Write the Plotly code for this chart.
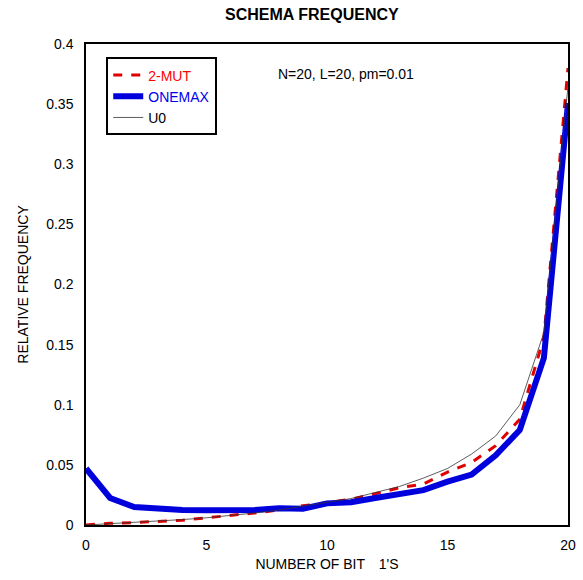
import plotly.graph_objects as go

x = list(range(21))
mut2 = [0.0, 0.0015, 0.002, 0.003, 0.004, 0.006, 0.0078, 0.010, 0.0125, 0.016, 0.0185,
        0.0215, 0.026, 0.031, 0.034, 0.044, 0.052, 0.066, 0.088, 0.156, 0.38]
onemax = [0.047, 0.0225, 0.015, 0.0135, 0.0125, 0.0122, 0.012, 0.0125, 0.014, 0.0135, 0.018,
          0.019, 0.0225, 0.0255, 0.029, 0.036, 0.042, 0.058, 0.079, 0.139, 0.351]
u0 = [0.0, 0.001, 0.002, 0.003, 0.0045, 0.006, 0.0078, 0.010, 0.0125, 0.0155, 0.0185,
      0.022, 0.027, 0.032, 0.039, 0.047, 0.059, 0.074, 0.100, 0.160, 0.365]

font = "Liberation Sans, Arial, sans-serif"
fig = go.Figure()
fig.add_trace(go.Scatter(x=x, y=mut2, mode="lines", name="<span style='color:#ff0000'>2-MUT</span>",
                         line=dict(color="#e00000", width=3, dash="dash")))
fig.add_trace(go.Scatter(x=x, y=onemax, mode="lines", name="<span style='color:#0000ee'>ONEMAX</span>",
                         line=dict(color="#0000dd", width=6)))
fig.add_trace(go.Scatter(x=x, y=u0, mode="lines", name="U0",
                         line=dict(color="#333333", width=0.8)))

fig.update_layout(
    width=583, height=580,
    margin=dict(l=86, r=15, t=44, b=55, autoexpand=False),
    paper_bgcolor="white", plot_bgcolor="white",
    font=dict(family=font, size=14, color="black"),
    title=dict(text="<b>SCHEMA FREQUENCY</b>", x=0.535, xanchor="center", y=0.975, yanchor="middle",
               font=dict(size=16, family=font)),
    xaxis=dict(range=[0, 20], tickvals=[0, 5, 10, 15, 20], showgrid=False, zeroline=False,
               showline=True, linecolor="black", linewidth=1.5, mirror=True, ticks="",
               ticklabelstandoff=6, automargin=False,
               title=dict(text="NUMBER OF BIT　1'S", standoff=8, font=dict(size=14))),
    yaxis=dict(range=[0, 0.4], tickvals=[0, 0.05, 0.1, 0.15, 0.2, 0.25, 0.3, 0.35, 0.4],
               ticktext=["0", "0.05", "0.1", "0.15", "0.2", "0.25", "0.3", "0.35", "0.4"],
               showgrid=False, zeroline=False, showline=True, linecolor="black", linewidth=1.5,
               mirror=True, ticks="", ticklabelstandoff=8, automargin=False,
               title=dict(text="RELATIVE FREQUENCY", standoff=14, font=dict(size=14))),
    legend=dict(x=0.042, y=0.972, xanchor="left", yanchor="top", bordercolor="black", borderwidth=2,
                bgcolor="white", font=dict(size=14, family=font), tracegroupgap=0,
                itemwidth=30),
    showlegend=True,
)
fig.add_annotation(text="N=20, L=20, pm=0.01", xref="paper", yref="paper", x=0.395, y=0.937,
                   xanchor="left", yanchor="middle", showarrow=False, font=dict(size=14, family=font))
fig.write_html("out.html")
